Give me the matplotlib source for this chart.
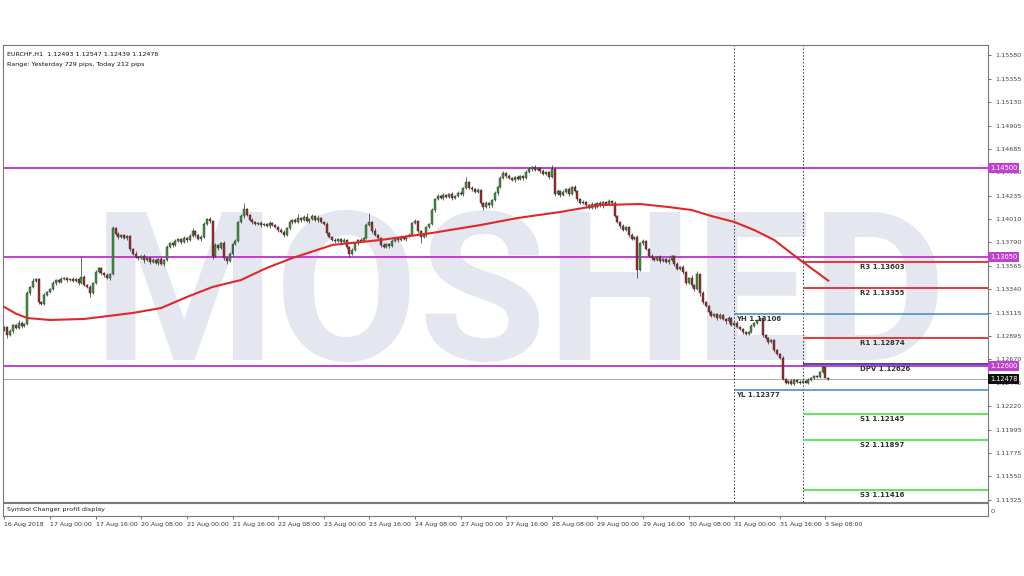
import matplotlib
matplotlib.use("Agg")
import matplotlib.pyplot as plt
from matplotlib.transforms import blended_transform_factory

# EURCHF H1 closes, one row per 16 bars (one time label each)
close_rows = [
    [1.1298, 1.1290, 1.1294, 1.1300, 1.1297, 1.1302, 1.1299, 1.1301, 1.1330, 1.1336, 1.1342, 1.1344, 1.1322, 1.1320, 1.1328, 1.1331],
    [1.1334, 1.1340, 1.1343, 1.1341, 1.1344, 1.1345, 1.1343, 1.1344, 1.1342, 1.1344, 1.1340, 1.1346, 1.1338, 1.1336, 1.1330, 1.1340],
    [1.1350, 1.1354, 1.1349, 1.1347, 1.1345, 1.1348, 1.1392, 1.1387, 1.1384, 1.1386, 1.1383, 1.1385, 1.1372, 1.1368, 1.1365, 1.1364],
    [1.1366, 1.1362, 1.1364, 1.1360, 1.1362, 1.1359, 1.1363, 1.1358, 1.1362, 1.1374, 1.1378, 1.1376, 1.1380, 1.1382, 1.1379, 1.1383],
    [1.1381, 1.1385, 1.1390, 1.1386, 1.1382, 1.1384, 1.1396, 1.1401, 1.1399, 1.1366, 1.1376, 1.1373, 1.1378, 1.1364, 1.1361, 1.1368],
    [1.1377, 1.1380, 1.1398, 1.1404, 1.1411, 1.1405, 1.1400, 1.1398, 1.1396, 1.1397, 1.1395, 1.1396, 1.1394, 1.1397, 1.1395, 1.1393],
    [1.1391, 1.1389, 1.1386, 1.1392, 1.1398, 1.1400, 1.1398, 1.1402, 1.1400, 1.1403, 1.1399, 1.1401, 1.1404, 1.1400, 1.1402, 1.1398],
    [1.1396, 1.1388, 1.1384, 1.1381, 1.1380, 1.1382, 1.1379, 1.1381, 1.1374, 1.1368, 1.1371, 1.1378, 1.1381, 1.1380, 1.1383, 1.1395],
    [1.1398, 1.1390, 1.1386, 1.1383, 1.1376, 1.1374, 1.1377, 1.1375, 1.1380, 1.1383, 1.1381, 1.1384, 1.1382, 1.1385, 1.1386, 1.1397],
    [1.1399, 1.1390, 1.1384, 1.1386, 1.1393, 1.1396, 1.1410, 1.1420, 1.1423, 1.1421, 1.1424, 1.1422, 1.1425, 1.1421, 1.1423, 1.1426],
    [1.1425, 1.1431, 1.1436, 1.1431, 1.1430, 1.1427, 1.1429, 1.1416, 1.1413, 1.1416, 1.1414, 1.1419, 1.1426, 1.1432, 1.1440, 1.1445],
    [1.1442, 1.1440, 1.1438, 1.1441, 1.1439, 1.1442, 1.1440, 1.1446, 1.1449, 1.1451, 1.1448, 1.1450, 1.1447, 1.1444, 1.1446, 1.1441],
    [1.1449, 1.1425, 1.1428, 1.1424, 1.1427, 1.1430, 1.1425, 1.1432, 1.1428, 1.1420, 1.1416, 1.1417, 1.1414, 1.1412, 1.1415, 1.1413],
    [1.1416, 1.1414, 1.1417, 1.1415, 1.1418, 1.1416, 1.1404, 1.1398, 1.1394, 1.1391, 1.1393, 1.1386, 1.1382, 1.1384, 1.1352, 1.1378],
    [1.1380, 1.1372, 1.1366, 1.1364, 1.1362, 1.1365, 1.1361, 1.1363, 1.1360, 1.1362, 1.1366, 1.1358, 1.1353, 1.1355, 1.1350, 1.1340],
    [1.1345, 1.1338, 1.1334, 1.1348, 1.1330, 1.1322, 1.1318, 1.1312, 1.1308, 1.1310, 1.1306, 1.1309, 1.1305, 1.1303, 1.1306, 1.1300],
    [1.1302, 1.1298, 1.1296, 1.1293, 1.1291, 1.1293, 1.1299, 1.1302, 1.1304, 1.1306, 1.1290, 1.1287, 1.1283, 1.1285, 1.1276, 1.1272],
    [1.1268, 1.1248, 1.1244, 1.1246, 1.1243, 1.1247, 1.1245, 1.1244, 1.1246, 1.1244, 1.1247, 1.1249, 1.1251, 1.1250, 1.1255, 1.1259],
    [1.12493, 1.12478],
]
first_open = 1.1295

# upper / lower wick length above / below the body, in pips
up_rows = [
    [1, 1, 2, 1, 1, 2, 1, 1, 2, 1, 3, 1, 1, 1, 2, 1],
    [1, 2, 1, 1, 2, 1, 1, 1, 2, 1, 1, 19, 1, 1, 2, 1],
    [2, 1, 1, 1, 2, 1, 2, 1, 2, 1, 1, 1, 1, 1, 2, 1],
    [1, 2, 1, 1, 2, 1, 1, 2, 1, 2, 1, 1, 2, 1, 1, 2],
    [1, 2, 2, 1, 1, 2, 2, 1, 2, 1, 2, 1, 1, 2, 1, 1],
    [1, 2, 1, 2, 5, 1, 1, 2, 1, 1, 2, 1, 1, 2, 1, 1],
    [1, 1, 2, 1, 2, 1, 2, 4, 1, 2, 4, 1, 2, 1, 3, 1],
    [1, 2, 1, 1, 2, 1, 1, 2, 1, 1, 2, 1, 1, 2, 1, 2],
    [9, 1, 2, 1, 1, 2, 1, 1, 2, 1, 1, 2, 1, 1, 2, 1],
    [2, 1, 1, 2, 1, 1, 2, 1, 2, 1, 2, 1, 1, 2, 1, 2],
    [2, 1, 5, 1, 2, 1, 2, 1, 1, 2, 1, 1, 2, 1, 2, 2],
    [1, 2, 1, 1, 2, 1, 1, 2, 2, 1, 2, 1, 1, 2, 1, 1],
    [4, 1, 2, 1, 2, 1, 2, 1, 2, 1, 1, 2, 1, 1, 2, 1],
    [1, 2, 1, 1, 2, 1, 2, 1, 1, 2, 1, 1, 2, 1, 2, 1],
    [2, 1, 1, 2, 1, 1, 2, 1, 1, 2, 1, 1, 2, 1, 2, 1],
    [1, 2, 1, 3, 1, 2, 1, 1, 2, 1, 1, 2, 1, 1, 2, 1],
    [0.5, 1, 1, 1, 1, 1, 2, 0.5, 0.5, 0.6, 1, 1, 1, 1, 1, 1],
    [1, 2, 1, 1, 2, 1, 1, 2, 1, 1, 2, 1, 1, 1, 1, 1],
    [0.3, 0.54],
]
down_rows = [
    [1, 3, 1, 2, 1, 1, 2, 1, 1, 2, 1, 1, 2, 1, 1, 1],
    [1, 1, 2, 1, 1, 1, 2, 1, 1, 1, 2, 1, 1, 1, 4, 1],
    [1, 1, 2, 1, 1, 2, 1, 1, 2, 1, 1, 2, 2, 1, 1, 2],
    [1, 3, 1, 2, 1, 1, 2, 1, 2, 1, 1, 2, 1, 1, 2, 1],
    [2, 1, 1, 2, 1, 2, 1, 1, 2, 3, 1, 2, 1, 2, 3, 1],
    [2, 1, 1, 1, 2, 1, 1, 2, 1, 1, 2, 1, 1, 2, 1, 1],
    [2, 1, 2, 1, 1, 2, 1, 1, 2, 1, 1, 2, 1, 1, 2, 1],
    [1, 2, 1, 1, 2, 1, 2, 1, 2, 3, 1, 1, 2, 1, 1, 1],
    [1, 2, 1, 1, 2, 1, 1, 2, 1, 1, 2, 1, 1, 2, 1, 1],
    [1, 2, 6, 1, 2, 1, 1, 2, 1, 1, 2, 1, 1, 2, 1, 1],
    [1, 2, 1, 1, 2, 1, 1, 2, 3, 1, 2, 1, 1, 2, 1, 1],
    [2, 1, 1, 2, 1, 1, 2, 1, 1, 2, 1, 1, 2, 1, 1, 2],
    [1, 2, 1, 2, 1, 1, 2, 1, 1, 2, 1, 1, 2, 1, 1, 2],
    [1, 1, 2, 1, 1, 2, 1, 1, 2, 1, 1, 2, 1, 1, 7, 1],
    [2, 1, 1, 2, 1, 1, 2, 1, 1, 2, 1, 2, 1, 1, 2, 2],
    [1, 2, 2, 1, 3, 2, 1, 2, 1, 1, 2, 1, 1, 2, 1, 1],
    [1, 1, 1, 2, 1, 1, 1, 1, 1, 1, 2, 1, 2, 1, 2, 1],
    [1, 1.5, 0.5, 1, 0.53, 1, 0.5, 0.5, 0.3, 0.2, 1, 1, 1, 1, 1, 1],
    [0.5, 0.39],
]

# moving average (bar index, price)
ma_bars = [0, 4, 8, 16, 28, 45, 55, 64, 73, 83, 92, 101, 115, 132, 150, 167, 180, 195,
           209, 223, 233, 241, 248, 256, 263, 270, 275, 279, 285, 289]
ma_vals = [1.13168, 1.13105, 1.13063, 1.13044, 1.13054, 1.13111, 1.13159, 1.13264, 1.13360,
           1.13427, 1.13542, 1.13637, 1.13762, 1.13810, 1.13877, 1.13953, 1.14020, 1.14078,
           1.14144, 1.14154, 1.14125, 1.14097, 1.14039, 1.13982, 1.13905, 1.13810, 1.13704,
           1.13620, 1.13500, 1.13420]

time_labels = ['16 Aug 2018', '17 Aug 00:00', '17 Aug 16:00', '20 Aug 08:00', '21 Aug 00:00',
               '21 Aug 16:00', '22 Aug 08:00', '23 Aug 00:00', '23 Aug 16:00', '24 Aug 08:00',
               '27 Aug 00:00', '27 Aug 16:00', '28 Aug 08:00', '29 Aug 00:00', '29 Aug 16:00',
               '30 Aug 08:00', '31 Aug 00:00', '31 Aug 16:00', '3 Sep 08:00']
price_ticks = [1.15580, 1.15355, 1.15130, 1.14905, 1.14685, 1.14460, 1.14235, 1.14010, 1.13790,
               1.13565, 1.13340, 1.13115, 1.12895, 1.12670, 1.12445, 1.12220, 1.11995, 1.11775,
               1.11550, 1.11325]

pivot_names = ['R3', 'R2', 'R1', 'DPV', 'S1', 'S2', 'S3']
pivot_vals = [1.13603, 1.13355, 1.12874, 1.12626, 1.12145, 1.11897, 1.11416]
pivot_colors = ['#e8383a', '#e8383a', '#e8383a', '#4a46b8', '#5ee65a', '#5ee65a', '#5ee65a']
yest_names = ['YH', 'YL']
yest_vals = [1.13106, 1.12377]
magenta_levels = [1.14500, 1.13650, 1.12600]
last_price = 1.12478
day_starts = [256, 280]  # 31 Aug 00:00 and 3 Sep 00:00

closes = [c for row in close_rows for c in row]
ups = [u for row in up_rows for u in row]
downs = [d for row in down_rows for d in row]
opens = [first_open] + closes[:-1]
highs = [max(o, c) + u * 1e-4 for o, c, u in zip(opens, closes, ups)]
lows = [min(o, c) - d * 1e-4 for o, c, d in zip(opens, closes, downs)]
bars = list(range(len(closes)))

W, H = 1024, 576
fig = plt.figure(figsize=(W / 100, H / 100), dpi=100)
ax = fig.add_axes([3 / W, 1 - 502 / H, 985 / W, 457 / H])
ax2 = fig.add_axes([3 / W, 1 - 516 / H, 985 / W, 13 / H])

xmax = 345
ax.set_xlim(-0.5, xmax)
ax.set_ylim(1.11302, 1.15676)
ax2.set_xlim(-0.5, xmax)
ax2.set_ylim(0, 1)

# watermark
ax.text(0.525, 0.311, 'MOSHED', transform=ax.transAxes, ha='center', va='baseline',
        fontsize=150, fontweight='bold', family='Roboto', color='#e4e7ef', zorder=0)

# horizontal levels
for lv in magenta_levels:
    ax.axhline(lv, color='#c040d0', lw=1.4, zorder=2)
ax.axhline(last_price, color='#9a9a9a', lw=0.6, zorder=2)

for d in day_starts:
    ax.axvline(d, color='#333333', lw=0.7, ls=(0, (1.5, 2)), zorder=2)

for name, v, c in zip(pivot_names, pivot_vals, pivot_colors):
    ax.hlines(v, day_starts[1], xmax, color=c, lw=1.4, zorder=3)
    ax.text(300, v - 0.00022, f'{name} {v:.5f}', ha='left', va='top', fontsize=5,
            fontweight='bold', color='#333333', zorder=6)
for name, v in zip(yest_names, yest_vals):
    ax.hlines(v, day_starts[0], xmax, color='#3a8cc4', lw=1.1, zorder=3)
    ax.text(day_starts[0] + 0.5, v - 0.00022, f'{name} {v:.5f}', ha='left', va='top',
            fontsize=5, fontweight='bold', color='#333333', zorder=6)

# candles
ax.vlines(bars, lows, highs, color='#2a2a2a', lw=0.5, zorder=4)
body_bottom = [min(o, c) for o, c in zip(opens, closes)]
body_height = [max(abs(c - o), 0.00002) for o, c in zip(opens, closes)]
body_color = ['#3f9a3a' if c >= o else '#a52a2a' for o, c in zip(opens, closes)]
ax.bar(bars, body_height, bottom=body_bottom, width=0.7, color=body_color,
       edgecolor='#2a2a2a', linewidth=0.3, zorder=5)

# moving average
ax.plot(ma_bars, ma_vals, color='#e0282a', lw=1.5, zorder=6, solid_joinstyle='round')

# header
ax.text(0.004, 0.985, 'EURCHF,H1  1.12493 1.12547 1.12439 1.12478', transform=ax.transAxes,
        ha='left', va='top', fontsize=4.6, color='#111111')
ax.text(0.004, 0.963, 'Range: Yesterday 729 pips, Today 212 pips', transform=ax.transAxes,
        ha='left', va='top', fontsize=4.6, color='#111111')

# right price scale
ax.yaxis.tick_right()
ax.set_yticks(price_ticks)
ax.set_yticklabels([f'{p:.5f}' for p in price_ticks])
ax.tick_params(axis='y', direction='out', length=2.5, width=0.6, pad=2.5,
               labelsize=4.6, labelcolor='#444444', color='#555555')
ax.tick_params(axis='x', bottom=False, labelbottom=False)

tr = blended_transform_factory(ax.transAxes, ax.transData)
for lv in magenta_levels:
    ax.text(1.002, lv, f'{lv:.5f}', transform=tr, ha='left', va='center', fontsize=4.8,
            color='white', clip_on=False, zorder=10,
            bbox=dict(boxstyle='square,pad=0.3', fc='#c040d0', ec='none'))
ax.text(1.002, last_price, f'{last_price:.5f}', transform=tr, ha='left', va='center',
        fontsize=4.8, color='white', clip_on=False, zorder=10,
        bbox=dict(boxstyle='square,pad=0.3', fc='#111111', ec='none'))

for a in (ax, ax2):
    for s in a.spines.values():
        s.set_color('#7a7a7a')
        s.set_linewidth(0.8)

# sub window + time axis
ax2.set_yticks([])
ax2.text(0.004, 0.5, 'Symbol Changer profit display', transform=ax2.transAxes,
         ha='left', va='center', fontsize=4.6, color='#222222')
ax2.text(1.004, 0.5, '0', transform=ax2.transAxes, ha='left', va='center',
         fontsize=4.6, rotation=90, color='#444444')
ax2.set_xticks(list(range(0, 16 * len(time_labels), 16)))
ax2.set_xticklabels(time_labels)
ax2.tick_params(axis='x', direction='out', length=2.5, width=0.6, pad=2,
                labelsize=4.5, labelcolor='#333333', color='#555555')
for lab in ax2.get_xticklabels():
    lab.set_horizontalalignment('left')

fig.savefig('out.png', dpi=100, facecolor='white')
